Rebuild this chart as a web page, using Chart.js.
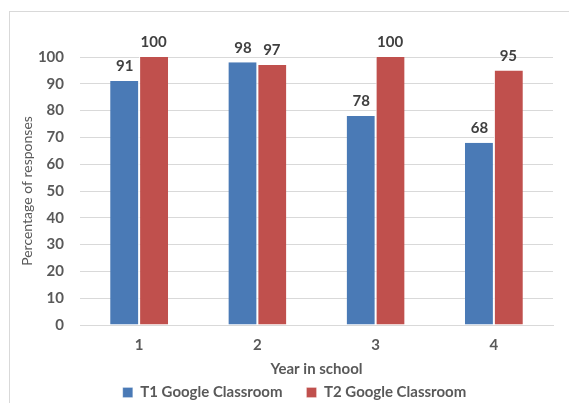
<!DOCTYPE html>
<html>
<head>
<meta charset="utf-8">
<script src="https://cdn.jsdelivr.net/npm/chart.js@4/dist/chart.umd.min.js"></script>
<style>
  html, body { margin: 0; padding: 0; background: #fff; }
  #frame { position: absolute; left: 9px; top: 11px; width: 600px; height: 420px; border: 1px solid #d9d9d9; }
  #wrap { position: absolute; left: 0; top: 0; width: 569px; height: 403px; }
</style>
</head>
<body>
<div id="frame"></div>
<div id="wrap"><canvas id="chart" width="569" height="403"></canvas></div>
<script>
// chart values
const years = ['1', '2', '3', '4'];
const t1Values = [91, 98, 78, 68];
const t2Values = [100, 97, 100, 95];
const yTicks = [0, 10, 20, 30, 40, 50, 60, 70, 80, 90, 100];

const FONT = 'Lato, "Noto Sans", sans-serif';
const TEXT = '#595959';

// value labels above each bar
const barLabels = {
    id: 'barLabels',
    afterDatasetsDraw(chart) {
        const ctx = chart.ctx;
        ctx.save();
        ctx.font = 'bold 15px ' + FONT;
        ctx.fillStyle = '#404040';
        ctx.textAlign = 'center';
        ctx.textBaseline = 'bottom';
        chart.data.datasets.forEach((ds, i) => {
            chart.getDatasetMeta(i).data.forEach((bar, j) => {
                ctx.fillText(ds.data[j], bar.x, bar.y - 7);
            });
        });
        ctx.restore();
    }
};

new Chart(document.getElementById('chart'), {
    type: 'bar',
    data: {
        labels: years,
        datasets: [{
            label: 'T1 Google Classroom',
            data: t1Values,
            backgroundColor: '#4a7ab6',
            borderColor: '#ffffff',
            borderWidth: {left: 0, right: 1, top: 0, bottom: 0}
        }, {
            label: 'T2 Google Classroom',
            data: t2Values,
            backgroundColor: '#c0504d',
            borderColor: '#ffffff',
            borderWidth: {left: 1, right: 0, top: 0, bottom: 0}
        }]
    },
    options: {
        responsive: false,
        animation: false,
        // left padding shifts the legend; negative bottom lets the legend box run past the canvas edge
        layout: {padding: {top: 57, right: 16, left: 36, bottom: -7}},
        datasets: {bar: {categoryPercentage: 0.49, barPercentage: 1}},
        plugins: {
            tooltip: {enabled: false},
            legend: {
                position: 'bottom',
                labels: {
                    boxWidth: 10,
                    boxHeight: 10,
                    padding: 24,
                    color: TEXT,
                    font: {family: FONT, size: 15, weight: 'bold'}
                }
            }
        },
        scales: {
            x: {
                grid: {display: false, drawTicks: false},
                border: {color: '#d9d9d9'},
                ticks: {color: TEXT, padding: 11, font: {family: FONT, size: 15, weight: 'bold'}},
                title: {
                    display: true,
                    text: 'Year in school',
                    color: TEXT,
                    padding: {top: 0, bottom: -17},
                    font: {family: FONT, size: 15, weight: 'bold'}
                },
                afterFit(scale) { scale.height = 36; }
            },
            y: {
                min: 0,
                max: 100,
                afterBuildTicks(scale) { scale.ticks = yTicks.map(v => ({value: v})); },
                grid: {color: '#d9d9d9', drawTicks: false},
                border: {display: false},
                ticks: {color: TEXT, padding: 16, font: {family: FONT, size: 15, weight: 'bold'}},
                title: {
                    display: true,
                    text: 'Percentage of responses',
                    color: TEXT,
                    padding: {top: -17, bottom: 0},
                    font: {family: FONT, size: 14}
                },
                afterFit(scale) { scale.width = 44; }
            }
        }
    },
    plugins: [barLabels]
});
</script>
</body>
</html>
